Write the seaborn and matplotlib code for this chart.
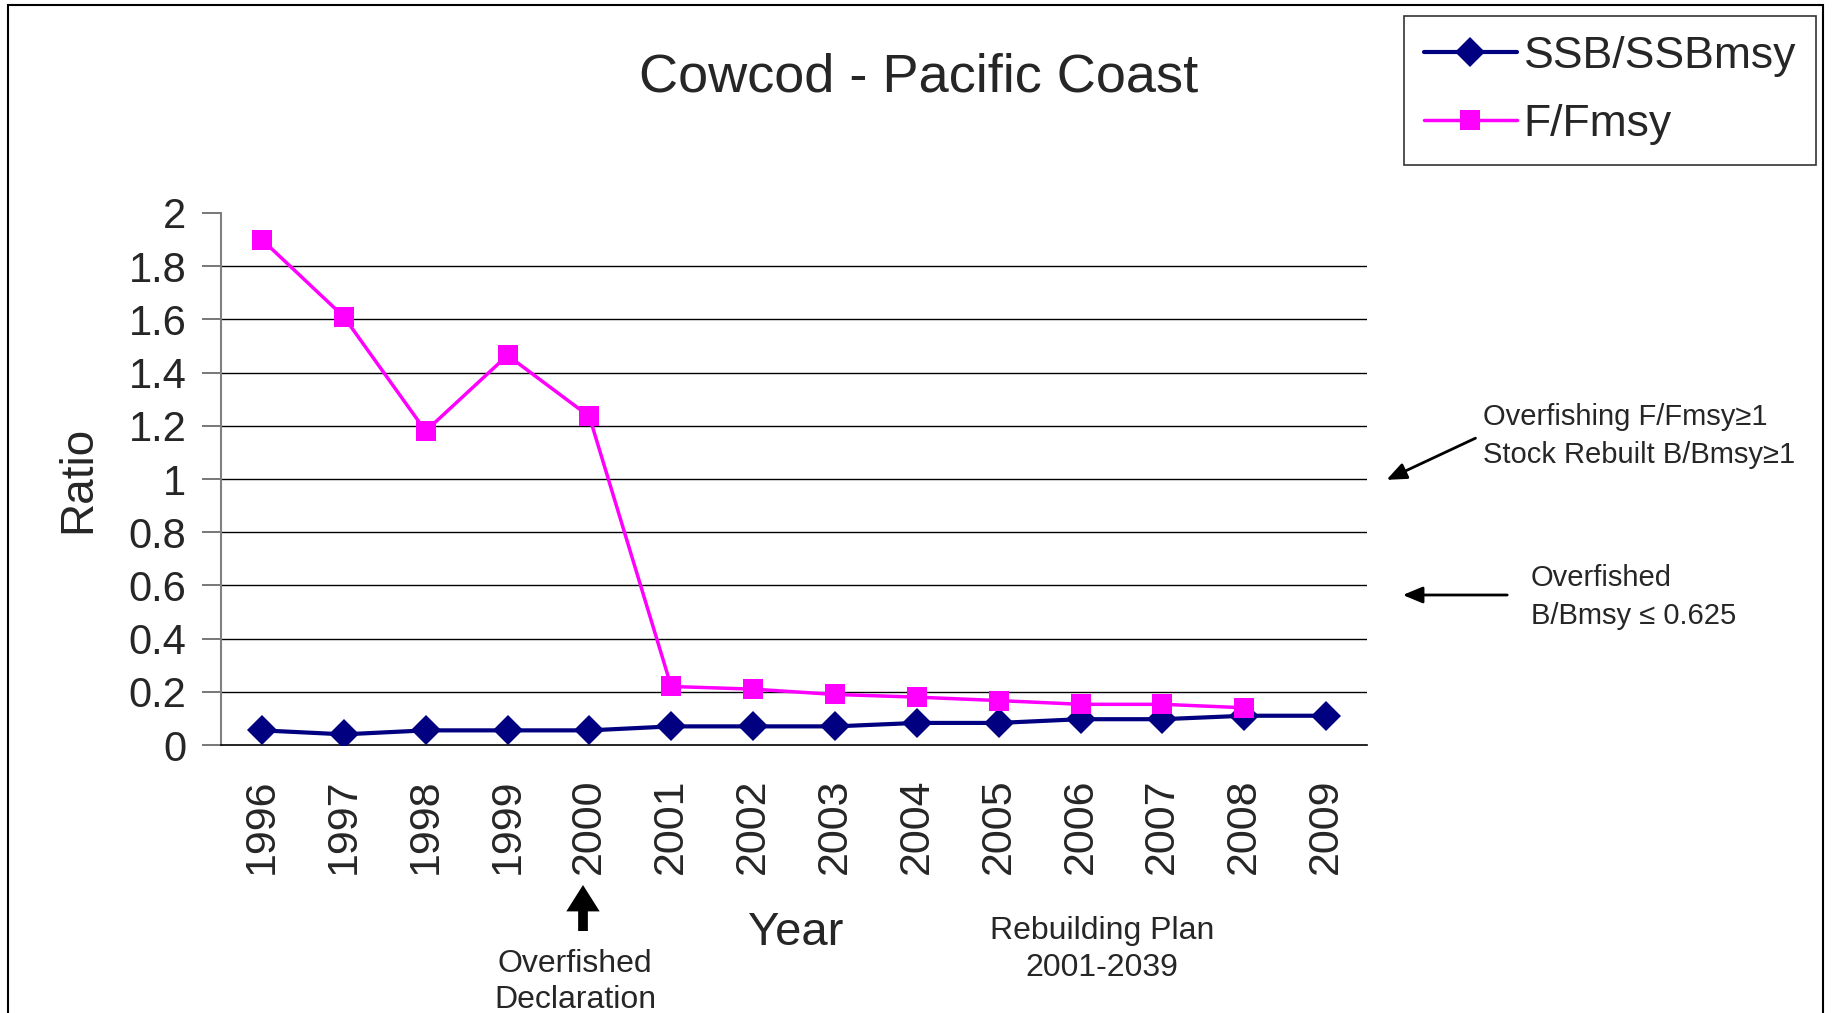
import numpy as np
import pandas as pd
import matplotlib
matplotlib.use("Agg")
import matplotlib.pyplot as plt
from matplotlib.patches import Rectangle, FancyArrowPatch
import seaborn as sns

# data
years = ["1996", "1997", "1998", "1999", "2000", "2001", "2002",
         "2003", "2004", "2005", "2006", "2007", "2008", "2009"]
ssb_ratio = [0.055, 0.04, 0.055, 0.055, 0.055, 0.07, 0.07,
             0.07, 0.083, 0.083, 0.097, 0.097, 0.11, 0.11]
f_ratio = [1.90, 1.61, 1.18, 1.465, 1.235, 0.22, 0.21,
           0.19, 0.18, 0.167, 0.153, 0.153, 0.14, np.nan]
y_ticks = [0, 0.2, 0.4, 0.6, 0.8, 1, 1.2, 1.4, 1.6, 1.8, 2]

df = pd.DataFrame({"pos": np.arange(len(years)), "year": years,
                   "SSB/SSBmsy": ssb_ratio, "F/Fmsy": f_ratio})

sns.set_style("white")
plt.rcParams['font.family'] = ['Liberation Sans', 'DejaVu Sans']

W, H = 1835, 1013
fig = plt.figure(figsize=(W / 100, H / 100), dpi=100)
ax = fig.add_axes([221 / W, 1 - 745 / H, (1367 - 221) / W, (745 - 213) / H])

# horizontal gridlines (no line at 2)
for v in y_ticks[1:-1]:
    ax.axhline(v, color="black", lw=1.0, zorder=1)

sns.lineplot(data=df, x="pos", y="SSB/SSBmsy", ax=ax, color="#000080",
             lw=3, marker="D", markersize=15, markeredgewidth=0,
             label="SSB/SSBmsy", zorder=3)
sns.lineplot(data=df.dropna(), x="pos", y="F/Fmsy", ax=ax, color="#FF00FF",
             lw=2.5, marker="s", markersize=14, markeredgewidth=0,
             label="F/Fmsy", zorder=3)

ax.set_xlim(-0.5, len(years) - 0.5)
ax.set_ylim(0, 2)
ax.set_yticks(y_ticks)
ax.set_yticklabels(["0", "0.2", "0.4", "0.6", "0.8", "1", "1.2", "1.4", "1.6", "1.8", "2"])
ax.set_xticks(np.arange(len(years)))
ax.set_xticklabels(years, rotation=90, va="top")
ax.set_xticks(np.arange(len(years) + 1) - 0.5, minor=True)
ax.tick_params(axis="x", which="major", length=0, labelsize=31, pad=24)
ax.tick_params(axis="x", which="minor", length=13, width=1.2, color="#606060", direction="out")
ax.tick_params(axis="y", length=14, width=1.2, color="#606060", direction="out",
               labelsize=30, pad=11, left=True)
for s in ["top", "right"]:
    ax.spines[s].set_visible(False)
ax.spines["left"].set_color("#808080")
ax.spines["left"].set_linewidth(1.5)
ax.spines["bottom"].set_color("black")
ax.spines["bottom"].set_linewidth(1.2)
ax.set_xlabel("")
ax.set_ylabel("Ratio", fontsize=33, labelpad=20)
ax.get_legend().remove()

# title and x label
fig.text(919 / W, 1 - 77 / H, "Cowcod - Pacific Coast", fontsize=39,
         ha="center", va="center")
fig.text(796 / W, 1 - 933 / H, "Year", fontsize=34, ha="center", va="center")

# legend
handles, labels = ax.get_legend_handles_labels()
leg = fig.legend(handles, labels, loc="upper right",
                 bbox_to_anchor=(1816 / W, 1 - 16 / H), fontsize=32,
                 frameon=True, fancybox=False, edgecolor="black",
                 handlelength=2.1, handletextpad=0.15, borderpad=0.45,
                 labelspacing=0.6, borderaxespad=0)
leg.get_frame().set_linewidth(1.2)

# annotations on the right
fig.text(1483 / W, 1 - 417 / H, "Overfishing F/Fmsy\u22651", fontsize=21, va="center")
fig.text(1483 / W, 1 - 455 / H, "Stock Rebuilt B/Bmsy\u22651", fontsize=21, va="center")
fig.text(1531 / W, 1 - 578 / H, "Overfished", fontsize=21, va="center")
fig.text(1531 / W, 1 - 616 / H, "B/Bmsy \u2264 0.625", fontsize=21, va="center")
fig.add_artist(FancyArrowPatch(
    (1478 / W, 1 - 437 / H), (1384 / W, 1 - 481 / H), transform=fig.transFigure,
    arrowstyle="-|>,head_length=12,head_width=5", lw=2, color="black", mutation_scale=1))
fig.add_artist(FancyArrowPatch(
    (1510 / W, 1 - 595 / H), (1400 / W, 1 - 595 / H), transform=fig.transFigure,
    arrowstyle="-|>,head_length=12,head_width=5", lw=2, color="black", mutation_scale=1))

# annotations below
fig.text(575 / W, 1 - 964 / H, "Overfished", fontsize=23, ha="center", va="center")
fig.text(575 / W, 1 - 1000 / H, "Declaration", fontsize=23, ha="center", va="center")
fig.text(1102 / W, 1 - 931 / H, "Rebuilding Plan", fontsize=23, ha="center", va="center")
fig.text(1102 / W, 1 - 968 / H, "2001-2039", fontsize=23, ha="center", va="center")
fig.add_artist(FancyArrowPatch(
    (583 / W, 1 - 931 / H), (583 / W, 1 - 885 / H), transform=fig.transFigure,
    arrowstyle="simple,head_length=19,head_width=24,tail_width=7",
    lw=0, color="black", mutation_scale=1, shrinkA=0, shrinkB=0))

# outer frame
fig.add_artist(Rectangle((8 / W, -0.05), (1823 - 8) / W, 1.05 - 5 / H,
                         transform=fig.transFigure, fill=False, edgecolor="black", lw=1.5))

fig.savefig("out.png", dpi=100)
